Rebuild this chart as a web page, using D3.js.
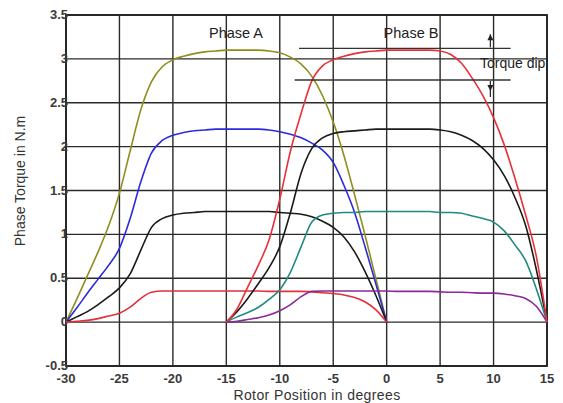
<!DOCTYPE html>
<html>
<head>
<meta charset="utf-8">
<script src="https://cdn.jsdelivr.net/npm/d3@7"></script>
<style>
  body { margin: 0; background: #fff; }
  text { font-family: "Liberation Sans", Arial, sans-serif; }
</style>
</head>
<body>
<div id="chart"></div>
<script>
//Tick values
const xTicks = [-30, -25, -20, -15, -10, -5, 0, 5, 10, 15];
const yTicks = [-0.5, 0, 0.5, 1, 1.5, 2, 2.5, 3, 3.5];

//Phase A curves, rotor position -30..0 (1 degree steps)
const posA = d3.range(-30, 1);
const olivA = [0, 0.26, 0.53, 0.8, 1.1, 1.47, 1.95, 2.42, 2.74, 2.91, 2.99, 3.03, 3.06, 3.08, 3.09, 3.1,
  3.1, 3.1, 3.1, 3.09, 3.07, 3.02, 2.94, 2.8, 2.58, 2.28, 1.9, 1.45, 0.98, 0.49, 0];
const blueA = [0, 0.16, 0.33, 0.49, 0.65, 0.84, 1.18, 1.6, 1.93, 2.07, 2.13, 2.16, 2.18, 2.19, 2.2, 2.2,
  2.2, 2.2, 2.2, 2.19, 2.17, 2.14, 2.1, 2.04, 1.96, 1.82, 1.56, 1.25, 0.85, 0.43, 0];
const blackA = [0, 0.06, 0.12, 0.2, 0.29, 0.39, 0.55, 0.82, 1.08, 1.18, 1.22, 1.24, 1.25, 1.26, 1.26, 1.26,
  1.26, 1.26, 1.26, 1.26, 1.25, 1.24, 1.23, 1.2, 1.15, 1.08, 0.97, 0.8, 0.57, 0.3, 0];
const redA = [0, 0.01, 0.02, 0.04, 0.07, 0.1, 0.17, 0.27, 0.34, 0.355, 0.355, 0.355, 0.355, 0.355, 0.355, 0.355,
  0.355, 0.355, 0.355, 0.35, 0.35, 0.35, 0.35, 0.345, 0.335, 0.325, 0.31, 0.28, 0.23, 0.14, 0];

//Phase B curves, rotor position -15..15 (1 degree steps)
const posB = d3.range(-15, 16);
const redB = [0, 0.15, 0.4, 0.65, 0.94, 1.4, 1.95, 2.38, 2.75, 2.92, 2.99, 3.03, 3.06, 3.08, 3.09, 3.1,
  3.1, 3.1, 3.1, 3.1, 3.09, 3.05, 2.95, 2.78, 2.58, 2.33, 2.02, 1.64, 1.22, 0.75, 0];
const blackB = [0, 0.12, 0.27, 0.44, 0.62, 0.86, 1.25, 1.7, 1.98, 2.1, 2.15, 2.17, 2.18, 2.19, 2.2, 2.2,
  2.2, 2.2, 2.2, 2.2, 2.19, 2.17, 2.13, 2.07, 1.98, 1.85, 1.67, 1.42, 1.1, 0.6, 0];
const tealB = [0, 0.06, 0.11, 0.17, 0.26, 0.37, 0.57, 0.86, 1.14, 1.22, 1.24, 1.25, 1.25, 1.26, 1.26, 1.26,
  1.26, 1.26, 1.26, 1.26, 1.25, 1.25, 1.24, 1.21, 1.18, 1.14, 1.04, 0.88, 0.7, 0.38, 0];
const purpB = [0, 0.01, 0.03, 0.05, 0.08, 0.13, 0.2, 0.29, 0.35, 0.355, 0.355, 0.355, 0.355, 0.355, 0.355, 0.355,
  0.35, 0.35, 0.35, 0.35, 0.345, 0.34, 0.34, 0.335, 0.33, 0.33, 0.32, 0.3, 0.27, 0.18, 0];

//Torque dip annotation: levels, x extents, arrow position
const dipLevels = [3.12, 2.76];
const dipStart = [-8.2, -8.6];
const dipEnd = [11.6, 11.6];
const dipArrowX = 9.7;

const width = 563, height = 403;
const margin = {left: 66, right: 16, top: 15, bottom: 37};

const svg = d3.select("#chart").append("svg")
  .attr("width", width)
  .attr("height", height);

const x = d3.scaleLinear().domain([-30, 15]).range([margin.left, width - margin.right]);
const y = d3.scaleLinear().domain([-0.5, 3.5]).range([height - margin.bottom, margin.top]);

//Grid
const grid = svg.append("g").attr("class", "grid");
grid.selectAll("line.gx")
  .data(xTicks)
  .enter().append("line")
  .attr("x1", d => x(d)).attr("x2", d => x(d))
  .attr("y1", y(-0.5)).attr("y2", y(3.5))
  .attr("stroke", "#2a2a2a").attr("stroke-width", 1.4);
grid.selectAll("line.gy")
  .data(yTicks)
  .enter().append("line")
  .attr("y1", d => y(d)).attr("y2", d => y(d))
  .attr("x1", x(-30)).attr("x2", x(15))
  .attr("stroke", "#2a2a2a").attr("stroke-width", 1.4);

svg.append("rect")
  .attr("x", x(-30)).attr("y", y(3.5))
  .attr("width", x(15) - x(-30)).attr("height", y(-0.5) - y(3.5))
  .attr("fill", "none").attr("stroke", "#222").attr("stroke-width", 1.8);

//Tick labels
svg.append("g").selectAll("text")
  .data(yTicks)
  .enter().append("text")
  .attr("x", x(-30) + 2)
  .attr("y", d => y(d) + 4)
  .attr("text-anchor", "end")
  .attr("font-size", 13).attr("font-weight", "bold").attr("fill", "#3a3a3a")
  .text(d => d);

svg.append("g").selectAll("text")
  .data(xTicks)
  .enter().append("text")
  .attr("x", d => x(d))
  .attr("y", y(-0.5) + 17)
  .attr("text-anchor", "middle")
  .attr("font-size", 13).attr("font-weight", "bold").attr("fill", "#3a3a3a")
  .text(d => d);

svg.append("text")
  .attr("x", 317)
  .attr("y", height - 3)
  .attr("text-anchor", "middle")
  .attr("font-size", 14).attr("letter-spacing", 0.4).attr("fill", "#333")
  .text("Rotor Position in degrees");

svg.append("text")
  .attr("transform", "translate(25,181) rotate(-90)")
  .attr("text-anchor", "middle")
  .attr("font-size", 14).attr("fill", "#333")
  .text("Phase Torque in N.m");

//Curves
const series = [
  {xs: posA, ys: olivA, color: "#8e8e1e"},
  {xs: posA, ys: blueA, color: "#2b2bdc"},
  {xs: posA, ys: blackA, color: "#1a1a1a"},
  {xs: posA, ys: redA, color: "#e3303c"},
  {xs: posB, ys: blackB, color: "#1a1a1a"},
  {xs: posB, ys: tealB, color: "#1f8a82"},
  {xs: posB, ys: purpB, color: "#8a2a96"},
  {xs: posB, ys: redB, color: "#e8303a"}
];

const line = d3.line()
  .x(d => x(d[0]))
  .y(d => y(d[1]))
  .curve(d3.curveMonotoneX);

svg.append("g").selectAll("path")
  .data(series)
  .enter().append("path")
  .attr("d", s => line(s.xs.map((v, i) => [v, s.ys[i]])))
  .attr("fill", "none")
  .attr("stroke", s => s.color)
  .attr("stroke-width", 1.6);

//Annotations
svg.append("text")
  .attr("x", 236).attr("y", 38)
  .attr("text-anchor", "middle")
  .attr("font-size", 14.5).attr("fill", "#222")
  .text("Phase A");
svg.append("text")
  .attr("x", 411).attr("y", 38)
  .attr("text-anchor", "middle")
  .attr("font-size", 14.5).attr("fill", "#222")
  .text("Phase B");

svg.append("g").selectAll("line")
  .data(dipLevels)
  .enter().append("line")
  .attr("x1", (d, i) => x(dipStart[i])).attr("x2", (d, i) => x(dipEnd[i]))
  .attr("y1", d => y(d)).attr("y2", d => y(d))
  .attr("stroke", "#333").attr("stroke-width", 1.4);

const ax = x(dipArrowX);
const yUp = y(dipLevels[0]), yDn = y(dipLevels[1]);
svg.append("line")
  .attr("x1", ax).attr("x2", ax)
  .attr("y1", yUp - 1).attr("y2", yUp - 14)
  .attr("stroke", "#222").attr("stroke-width", 1.2);
svg.append("path")
  .attr("d", `M${ax - 3},${yUp - 8} L${ax},${yUp - 14} L${ax + 3},${yUp - 8} Z`)
  .attr("fill", "#222");
svg.append("line")
  .attr("x1", ax).attr("x2", ax)
  .attr("y1", yDn + 1).attr("y2", yDn + 17)
  .attr("stroke", "#222").attr("stroke-width", 1.2);
svg.append("path")
  .attr("d", `M${ax - 3},${yDn + 5} L${ax},${yDn + 11} L${ax + 3},${yDn + 5} Z`)
  .attr("fill", "#222");

svg.append("text")
  .attr("x", 480).attr("y", 68)
  .attr("font-size", 14).attr("fill", "#222")
  .text("Torque dip");
</script>
</body>
</html>
